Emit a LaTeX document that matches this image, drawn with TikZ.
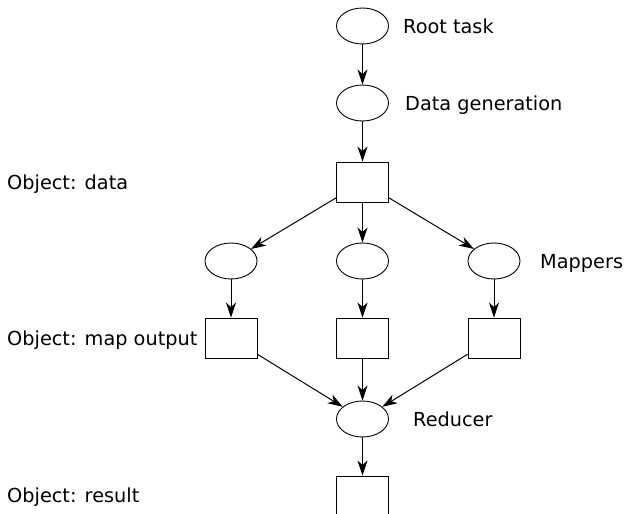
\documentclass[tikz,border=0pt]{standalone}
\usepackage{fontspec}
\setmainfont{DejaVu Sans}
\usetikzlibrary{shapes.geometric,arrows.meta}
\begin{document}
\begin{tikzpicture}[x=1pt,y=-1pt,
  task/.style={draw,ellipse,line width=0.9pt,minimum width=52pt,minimum height=36pt,inner sep=0pt},
  obj/.style={draw,rectangle,line width=0.9pt,minimum width=52pt,minimum height=40pt,inner sep=0pt},
  lbl/.style={anchor=base west,inner sep=0pt,font=\fontsize{19.3pt}{23pt}\selectfont},
  conn/.style={line width=1pt,-{Stealth[length=15pt,width=10pt,inset=4.5pt]}}]
\useasboundingbox (0,0) rectangle (625,514);
\clip (0,0) rectangle (625,514);
\node[task] (root) at (362.5,26) {};
\node[task] (gen) at (362.5,103) {};
\node[obj] (data) at (362.5,182) {};
\node[task] (m1) at (231,261) {};
\node[task] (m2) at (362.5,261) {};
\node[task] (m3) at (494,261) {};
\node[obj] (o1) at (231,338) {};
\node[obj] (o2) at (362.5,338) {};
\node[obj] (o3) at (494,338) {};
\node[task] (red) at (362.5,419) {};
\node[obj] (res) at (362.5,496) {};
\node[lbl] (t1) at (403,33) {Root task};
\node[lbl] (t2) at (405,110) {Data generation};
\node[lbl] (t3) at (7,189) {Object: data};
\node[lbl] (t4) at (540,268) {Mappers};
\node[lbl] (t5) at (7,345) {Object: map output};
\node[lbl] (t6) at (413,426) {Reducer};
\node[lbl] (t7) at (7,502) {Object: result};
\draw[conn] (root) -- (gen);
\draw[conn] (gen) -- (data);
\draw[conn] (data) -- (m1);
\draw[conn] (data) -- (m2);
\draw[conn] (data) -- (m3);
\draw[conn] (m1) -- (o1);
\draw[conn] (m2) -- (o2);
\draw[conn] (m3) -- (o3);
\draw[conn] (o1) -- (red);
\draw[conn] (o2) -- (red);
\draw[conn] (o3) -- (red);
\draw[conn] (red) -- (res);
\end{tikzpicture}
\end{document}
